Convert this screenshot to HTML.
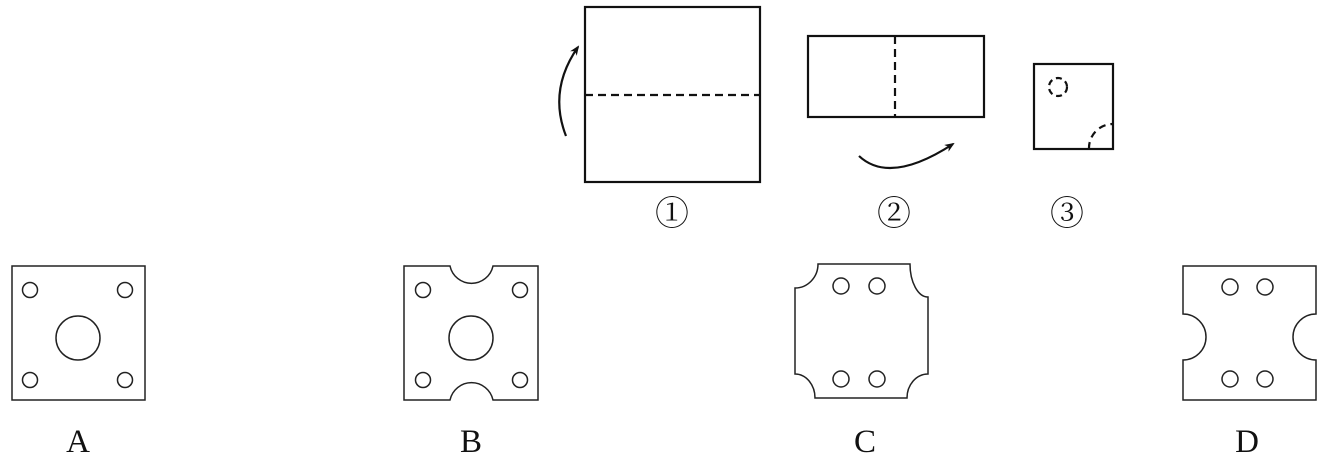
<!DOCTYPE html>
<html><head><meta charset="utf-8"><style>
html,body{margin:0;padding:0;background:#fff;}
svg{display:block}
</style></head><body>
<svg width="1343" height="474" viewBox="0 0 1343 474" xmlns="http://www.w3.org/2000/svg">
<defs><marker id="ah" markerWidth="10" markerHeight="8" refX="8" refY="4" orient="auto" markerUnits="userSpaceOnUse"><path d="M0,0 L10,4 L0,8 L3,4 Z" fill="#111"/></marker></defs>
<g fill="none" stroke="#111" stroke-width="2.2">
<rect x="585" y="7" width="175" height="175"/>
<line x1="585" y1="95" x2="760" y2="95" stroke-dasharray="8,5"/>
<path d="M566,136 Q548,90 578,47" marker-end="url(#ah)"/>
<rect x="808" y="36" width="176" height="81"/>
<line x1="895" y1="36" x2="895" y2="117" stroke-dasharray="8,5"/>
<path d="M859,156 Q890,185 953,144" marker-end="url(#ah)"/>
<rect x="1034" y="64" width="79" height="85"/>
<circle cx="1058" cy="87" r="9" stroke-dasharray="6,4"/>
<path d="M1089,149 A24,24 0 0 1 1113,124" stroke-dasharray="7,5"/>
</g>
<g font-family="'Liberation Serif', 'Noto Serif CJK SC', serif" fill="#111" text-anchor="middle">
<text x="672" y="225" font-size="34">①</text>
<text x="894" y="225" font-size="34">②</text>
<text x="1067" y="225" font-size="34">③</text>
<text x="78" y="452" font-size="33">A</text>
<text x="471" y="452" font-size="33">B</text>
<text x="865" y="452" font-size="33">C</text>
<text x="1247" y="452" font-size="33">D</text>
</g>
<g fill="none" stroke="#222" stroke-width="1.5">
<rect x="12" y="266" width="133" height="134"/>
<circle cx="30" cy="290" r="7.5"/><circle cx="125" cy="290" r="7.5"/>
<circle cx="30" cy="380" r="7.5"/><circle cx="125" cy="380" r="7.5"/>
<circle cx="78" cy="338" r="22"/>
<path d="M404,266 H450 A22,22 0 0 0 493,266 H538 V400 H493 A22,22 0 0 0 450,400 H404 Z"/>
<circle cx="423" cy="290" r="7.5"/><circle cx="520" cy="290" r="7.5"/>
<circle cx="423" cy="380" r="7.5"/><circle cx="520" cy="380" r="7.5"/>
<circle cx="471" cy="338" r="22"/>
<path d="M818,264 H910 A18,33 0 0 0 928,297 V374 A21,24 0 0 0 907,398 H815 A20,24 0 0 0 795,374 V288 A23,24 0 0 0 818,264 Z"/>
<circle cx="841" cy="286" r="8"/><circle cx="877" cy="286" r="8"/>
<circle cx="841" cy="379" r="8"/><circle cx="877" cy="379" r="8"/>
<path d="M1183,266 H1316 V314 A23,23 0 0 0 1316,360 V400 H1183 V360 A23,23 0 0 0 1183,314 Z"/>
<circle cx="1230" cy="287" r="8"/><circle cx="1265" cy="287" r="8"/>
<circle cx="1230" cy="379" r="8"/><circle cx="1265" cy="379" r="8"/>
</g>
</svg>
</body></html>
